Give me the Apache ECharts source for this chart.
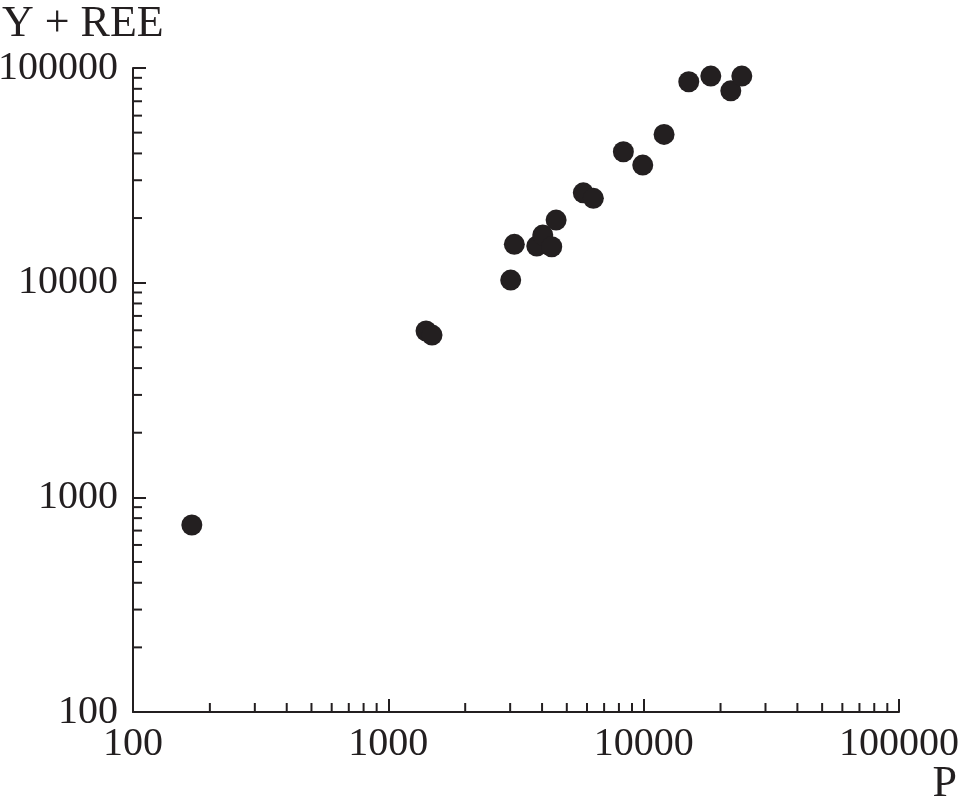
<!DOCTYPE html>
<html>
<head>
<meta charset="utf-8">
<script src="https://cdn.jsdelivr.net/npm/echarts@6/dist/echarts.min.js"></script>
<style>html,body{margin:0;padding:0;background:#fff;}#c{width:959px;height:810px;}</style>
</head>
<body>
<div id="c"></div>
<script>
// Data (P vs Y + REE)
var pValues = [170, 1405, 1483, 3015, 3115, 3814, 4026, 4365, 4540, 5804, 6353, 8328, 9918, 12020, 15020, 18320, 21940, 24230];
var yreeValues = [743, 5952, 5700, 10283, 15080, 14810, 16660, 14700, 19570, 26220, 24700, 40710, 35300, 49060, 86260, 91680, 78300, 91680];
var xTickLabels = [100, 1000, 10000, 100000];
var yTickLabels = [100, 1000, 10000, 100000];
var minorTickValues = [200,300,400,500,600,700,800,900,2000,3000,4000,5000,6000,7000,8000,9000,20000,30000,40000,50000,60000,70000,80000,90000];

var ink = '#231f20';
var font = '"Liberation Serif", "Times New Roman", serif';

var points = pValues.map(function (p, i) { return [p, yreeValues[i]]; });
var minorData = [];
minorTickValues.forEach(function (v) { minorData.push([v, 100, 0]); });
minorTickValues.forEach(function (v) { minorData.push([100, v, 1]); });

var chart = echarts.init(document.getElementById('c'), null, {renderer: 'canvas'});
var labelFmt = function (v) { return String(Math.round(v)); };
chart.setOption({
  backgroundColor: '#fff',
  animation: false,
  grid: {left: 133, right: 60, top: 68, bottom: 98, containLabel: false, outerBoundsMode: 'none'},
  xAxis: {
    type: 'log', logBase: 10, min: 100, max: 100000,
    splitLine: {show: false},
    axisLine: {show: true, lineStyle: {color: ink, width: 2}},
    axisTick: {show: true, inside: true, length: 13, lineStyle: {color: ink, width: 2}},
    axisLabel: {
      margin: 12, color: ink, fontFamily: font, fontSize: 40,
      formatter: labelFmt,
      customValues: xTickLabels
    }
  },
  yAxis: {
    type: 'log', logBase: 10, min: 100, max: 100000,
    splitLine: {show: false},
    axisLine: {show: true, lineStyle: {color: ink, width: 2}},
    axisTick: {show: true, inside: true, length: 13, lineStyle: {color: ink, width: 2}},
    axisLabel: {
      margin: 15, color: ink, fontFamily: font, fontSize: 40,
      formatter: labelFmt,
      customValues: yTickLabels
    }
  },
  graphic: [
    {type: 'text', left: 2, top: 2, style: {text: 'Y + REE', font: '44px "Liberation Serif", serif', fill: ink}},
    {type: 'text', right: 2, top: 762, style: {text: 'P', font: '44px "Liberation Serif", serif', fill: ink}}
  ],
  series: [
    {
      type: 'custom',
      silent: true,
      clip: false,
      data: minorData,
      renderItem: function (params, api) {
        var pt = api.coord([api.value(0), api.value(1)]);
        var dir = api.value(2);
        var shape = dir === 0
          ? {x1: pt[0], y1: pt[1], x2: pt[0], y2: pt[1] - 9}
          : {x1: pt[0], y1: pt[1], x2: pt[0] + 9, y2: pt[1]};
        return {type: 'line', shape: shape, style: {stroke: ink, lineWidth: 2}};
      }
    },
    {
      type: 'scatter',
      data: points,
      symbol: 'circle',
      symbolSize: 21,
      itemStyle: {color: ink, opacity: 1}
    }
  ]
});
</script>
</body>
</html>
